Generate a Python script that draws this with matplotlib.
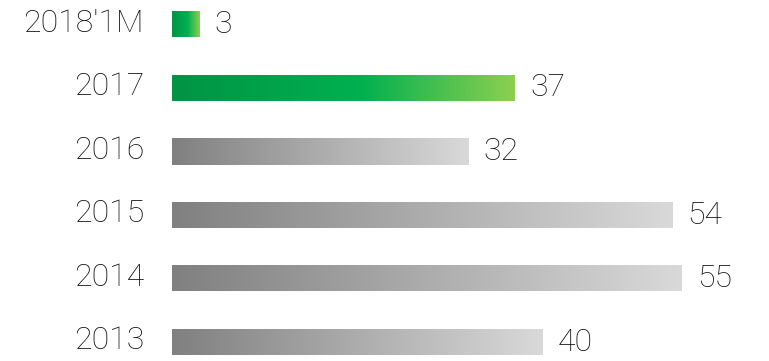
import numpy as np
import matplotlib
matplotlib.use("Agg")
import matplotlib.pyplot as plt
from matplotlib.colors import LinearSegmentedColormap

categories = ["2018'1M", "2017", "2016", "2015", "2014", "2013"]
values = [3, 37, 32, 54, 55, 40]
highlight = [True, True, False, False, False, False]

green_cmap = LinearSegmentedColormap.from_list(
    "green_grad", [(0.0, "#009444"), (0.55, "#00b050"), (1.0, "#8dcf50")])
gray_cmap = LinearSegmentedColormap.from_list(
    "gray_grad", [(0.0, "#808080"), (1.0, "#d9d9d9")])

W, H = 769, 361
fig = plt.figure(figsize=(W / 100, H / 100), dpi=100)
left_px = 172
px_per_unit = 9.27
ax = fig.add_axes([left_px / W, 0, 1 - left_px / W, 1])

# rows are 63.5 px apart, first row centred 24.5 px from the top
row_px = 63.5
first_px = 24.5
bar_h = 26 / row_px
top = -first_px / row_px
bottom = top + H / row_px
ax.axis("off")

grad = np.linspace(0, 1, 256).reshape(1, -1)
font = dict(family=["Roboto", "DejaVu Sans"], fontweight="light", color="#111111")

for i, (cat, v, hl) in enumerate(zip(categories, values, highlight)):
    cmap = green_cmap if hl else gray_cmap
    ax.imshow(grad, cmap=cmap, aspect="auto", interpolation="bicubic",
              extent=(0, v, i + bar_h / 2, i - bar_h / 2), zorder=2)
    ax.text(v + 15 / px_per_unit, i, f"{v}", va="center", ha="left",
            fontsize=23, **font)
    ax.text(-28 / px_per_unit, i - 0.02, cat, va="center", ha="right",
            fontsize=23, clip_on=False, **font)

ax.set_xlim(0, (W - left_px) / px_per_unit)
ax.set_ylim(bottom, top)
fig.savefig("out.png", dpi=100)
